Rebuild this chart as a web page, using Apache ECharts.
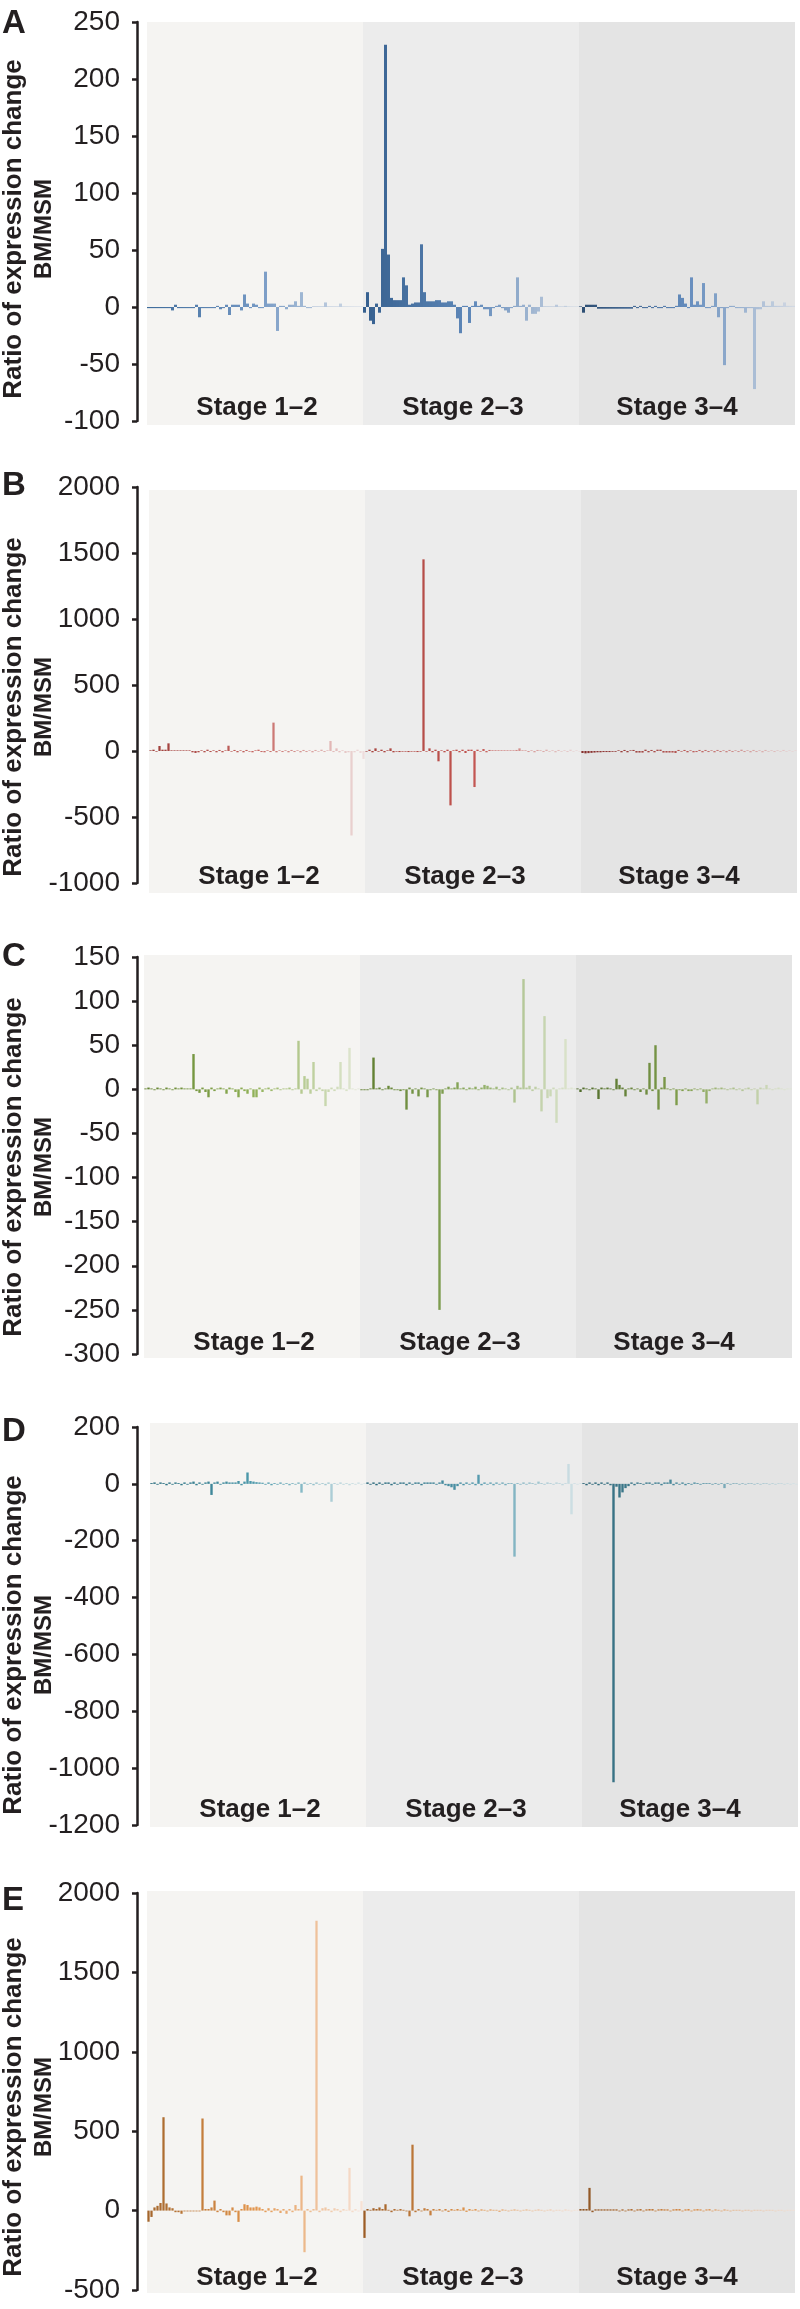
<!DOCTYPE html>
<html><head><meta charset="utf-8">
<script src="https://cdn.jsdelivr.net/npm/echarts@6/dist/echarts.min.js"></script>
<style>html,body{margin:0;padding:0;background:#fff}#c{width:800px;height:2309px}</style>
</head><body><div id="c"></div>
<script>
// ---------- text ----------
const panelLetters = ['A', 'B', 'C', 'D', 'E'];
const stageLabels = ['Stage 1–2', 'Stage 2–3', 'Stage 3–4'];
const yTitle = 'Ratio of expression change';
const ySub = 'BM/MSM';

// ---------- y-axis tick ranges ----------
const yMin = [-100, -1000, -300, -1200, -500];
const yMax = [250, 2000, 150, 200, 2000];
const yStep = [50, 500, 50, 200, 500];

// ---------- data (72 bars per stage) ----------
const A_s12 = [-1,-1,-1,-1,-1,-1,-1,-1,-3,2,-1,-1,-1,-1,-1,-1,2,-9,-1,-1,-1,-1,-1,1,-2,-1,2,-7,2,2,2,-3,11,3,-1,3,2,-1,-1,31,3,3,3,-21,1,1,-2,2,2,5,1,13,1,-1,-1,0.5,0.5,0.5,0.5,4,0.5,0.5,0.5,0.5,3,0.5,0.5,0.5,0.5,0.5,0.5,0.5];
const A_s23 = [-5,13,-12,-15,3,-5,51,230,46,8,6,6,6,26,19,2,3,4,4,55,13,5,5,5,6,6,4,4,5,5,2,-10,-23,1,1,-14,1,5,1,2,-2,-2,-8,-1,1,2,-1,-3,-5,-1,1,26,1,2,-12,2,-6,-6,-4,9,0.5,0.5,0.5,0.5,2,0.5,0.5,1,0.5,0.5,0.5,0.5];
const A_s34 = [0.5,-5,2,2,2,2,-1.5,-1.5,-1.5,-1.5,-1.5,-1.5,-1.5,-1.5,-1.5,-1.5,-1.5,-1.5,1,-1,1,-1,-1,1,-1,1,-1,-1,1,-1,-1,-1,1,11,8,3,-1,26,2,5,2,21,-1,-1,1,12,-9,-1,-51,-1,1,1,-1,-1,-1,-5,-1,-1,-72,-2,-2,5,1,1,5,1,1,1,4,1,1,1];

const B_s12 = [5,10,-5,38,10,10,58,5,5,5,5,5,5,5,-10,-15,-10,5,-10,10,-8,5,-10,8,-10,5,40,-5,8,-10,5,-10,8,-5,-10,5,10,-8,-10,5,-8,215,-10,5,-8,5,-10,8,-8,5,-10,8,-8,5,-10,8,-5,10,-8,5,76,-8,20,-10,5,-15,-10,-640,-10,10,-15,-60];
const B_s23 = [-5,10,-10,20,-5,10,-10,5,20,-10,-5,-8,-5,-5,-8,-5,-5,-8,-5,1452,-5,20,-10,10,-78,5,-10,10,-412,5,10,-10,10,-15,10,10,-273,10,-5,15,-10,8,5,5,5,5,5,5,5,5,8,20,5,5,-8,5,-10,8,5,-8,10,-5,5,-10,8,-5,5,-8,10,-5,5,-5];
const B_s34 = [-15,-18,-16,-14,-12,-10,-10,-8,-8,-8,-6,-6,5,-10,8,-10,5,8,-12,-12,-12,10,-10,8,-10,10,10,-12,-12,-12,-12,-15,8,-5,8,-10,5,-10,-8,8,-10,8,-8,5,-10,8,-8,5,-10,8,-8,5,-8,10,-8,5,-10,8,-8,5,-10,8,-5,5,-8,5,-5,8,-5,5,-5,5];

const C_s12 = [1,2,1,-1,2,1,-1,2,1,-1,2,1,2,1,1,1,40,-2,-4,2,-3,-9,2,-2,1,2,1,-5,2,1,-3,-9,2,-2,-5,1,-9,-9,2,-3,1,2,-2,1,2,-1,1,1,2,-1,1,55,-5,15,12,-5,31,-2,2,-2,-19,-3,2,-2,3,31,1,-2,47,1,-1,1];
const C_s23 = [-1,-1,-1,1,36,1,2,-1,1,4,2,-1,-1,-2,-1,-23,2,-5,1,-8,2,1,-9,-1,1,-1,-250,-5,1,3,1,2,8,1,2,-1,2,1,3,-1,2,5,4,2,1,3,-1,2,1,-1,2,-15,4,2,125,2,4,-2,3,1,-25,83,-10,-8,2,-38,1,2,57,1,2,1];
const C_s34 = [1,-3,2,1,-1,2,1,-11,2,1,2,1,-1,12,5,2,-8,1,2,-1,1,-3,1,-6,30,-2,50,-23,2,14,1,-1,1,-18,-1,-2,1,-2,-2,1,-1,1,-3,-16,-2,1,2,1,2,1,-1,1,2,-1,1,-2,1,2,-1,1,-17,2,1,5,1,-1,1,2,1,-1,1,1];

const D_s12 = [3,5,-3,5,3,-5,5,-3,5,3,-5,5,-3,5,8,-5,5,-3,5,8,-39,5,8,-3,5,8,5,5,5,10,-5,8,40,10,8,6,5,4,-3,5,-5,3,-3,5,-3,3,-5,3,-3,5,-31,5,-3,3,-5,5,-3,3,-5,5,-63,3,-3,5,-3,3,-5,3,-3,5,-3,3];
const D_s23 = [5,-3,5,-5,5,-3,5,5,-5,5,-3,5,5,-5,5,-3,5,5,-5,5,5,5,5,-3,5,12,-5,-8,-12,-21,-8,5,-5,5,-3,5,-5,32,-5,5,-3,5,-5,5,-3,5,-5,3,3,-256,3,-3,5,-3,5,3,-3,8,3,-3,5,3,-3,5,3,-5,3,70,-107,3,-3,3];
const D_s34 = [3,-5,5,-3,5,-5,5,-3,5,-5,-1050,-10,-48,-30,-15,-8,5,-5,5,3,-3,5,5,-3,5,5,-5,5,5,15,-5,5,-3,5,-5,3,-3,5,3,-3,3,3,3,-3,3,-3,3,-15,3,-3,3,3,-3,3,-3,3,3,-3,3,-3,3,3,-3,3,-3,3,3,-3,3,-3,3,-3];

const E_s12 = [-70,-40,20,30,48,588,45,20,15,-10,-10,-20,-5,-5,-5,-5,-5,-5,580,10,10,20,63,-10,10,-10,-30,-30,20,-10,-71,10,40,35,20,20,25,20,10,-10,15,-10,15,10,-15,10,-20,10,-10,35,10,220,-262,10,-10,10,1826,-10,15,20,10,-10,15,10,-10,10,5,269,-10,10,-5,60];
const E_s23 = [-172,10,5,15,10,20,10,40,5,-10,10,5,10,5,-5,-36,415,-10,10,-5,15,10,-30,10,5,10,-5,10,-8,10,5,10,5,20,-8,10,5,10,-5,8,5,-5,8,5,5,-8,8,5,-5,5,8,5,-5,5,8,5,-5,5,8,5,-5,5,8,-5,5,5,-5,8,5,-5,5,5];
const E_s34 = [10,10,10,143,-10,8,8,8,8,8,8,8,8,-5,8,-5,8,10,-5,8,10,-5,8,10,10,-5,8,10,8,8,-5,8,10,10,-5,8,10,-5,8,10,8,-5,8,10,-5,8,5,-5,8,5,-5,5,5,5,-5,5,5,-5,5,5,5,-5,5,5,5,-5,5,5,-5,5,5,5];

const panelData = [
  [A_s12, A_s23, A_s34],
  [B_s12, B_s23, B_s34],
  [C_s12, C_s23, C_s34],
  [D_s12, D_s23, D_s34],
  [E_s12, E_s23, E_s34]
];

// ---------- layout (pixels) ----------
const AXIS_X = 137;
const bandLeft = [147, 149, 144, 150, 147];
const BAND_W = 216;
const tickTop = [22, 487, 957, 1427, 1893];
const tickBottom = [421, 883, 1354, 1825, 2290];
const bandTop = [22, 490, 955, 1423, 1891];
const bandBottom = [425, 893, 1358, 1827, 2293];
const letterY = [24, 486, 957, 1432, 1901];
const titleY = [229, 707, 1167, 1645, 2107];
const stageLabelY = [408, 877, 1343, 1810, 2278];
const stageLabelDX = [110, 316, 530];
const barGap = ['0%', '25%', '20%', '20%', '25%'];

// ---------- styles ----------
const INK = '#231f20';
const bandColors = ['#f5f4f2', '#ececec', '#e4e4e4'];
const palettes = [
  [['#3f6c9c','#7397c3','#d5dde7'], ['#36608f','#5f88b9','#d0d8e3'], ['#2c4d72','#648cbd','#d2d9e3']],
  [['#9e3d39','#c66662','#eedcdc'], ['#a8443f','#c25450','#ead8d8'], ['#862f2c','#bb5c59','#e8d4d4']],
  [['#62822f','#8fb056','#e2e8d6'], ['#5e7d2e','#88a85b','#dfe6d2'], ['#4f6b2a','#82a04e','#dfe6d4']],
  [['#2a6e80','#4f9bae','#d6e4e8'], ['#2a687b','#5098ac','#d7e4e8'], ['#2f6779','#4e8fa2','#d6e3e7']],
  [['#a5662c','#e3954c','#f7e1d4'], ['#9d5d26','#e0944c','#f6e0d3'], ['#8d5424','#d98c46','#f5dfd2']]
];

function hex2rgb(h) { return [1,3,5].map(i => parseInt(h.slice(i, i + 2), 16)); }
function lerpColor(stops, t) {
  const seg = t < 0.5 ? 0 : 1;
  const lt = seg === 0 ? t / 0.5 : (t - 0.5) / 0.5;
  const a = hex2rgb(stops[seg]), b = hex2rgb(stops[seg + 1]);
  const c = a.map((v, i) => Math.round(v + (b[i] - v) * lt));
  return 'rgb(' + c.join(',') + ')';
}

const grid = [], xAxis = [], yAxis = [], series = [], graphic = [];

// background band grids
for (let p = 0; p < 5; p++) {
  for (let s = 0; s < 3; s++) {
    const gi = grid.length;
    grid.push({ left: bandLeft[p] + BAND_W * s, width: BAND_W, top: bandTop[p],
      height: bandBottom[p] - bandTop[p], show: true, backgroundColor: bandColors[s], borderWidth: 0 });
    xAxis.push({ gridIndex: gi, type: 'value', show: false, min: 0, max: 1 });
    yAxis.push({ gridIndex: gi, type: 'value', show: false, min: 0, max: 1 });
  }
}

// data grids
for (let p = 0; p < 5; p++) {
  for (let s = 0; s < 3; s++) {
    const gi = grid.length;
    const vals = panelData[p][s];
    grid.push({ left: bandLeft[p] + BAND_W * s, width: BAND_W, top: tickTop[p],
      height: tickBottom[p] - tickTop[p], show: false });
    xAxis.push({ gridIndex: gi, type: 'category', data: vals.map((v, i) => i), show: false });
    const ya = { gridIndex: gi, type: 'value', min: yMin[p], max: yMax[p], interval: yStep[p],
      splitLine: { show: false } };
    if (s === 0) {
      Object.assign(ya, {
        show: true, position: 'left', offset: bandLeft[p] - AXIS_X,
        axisLine: { show: true, lineStyle: { color: INK, width: 2.5 } },
        axisTick: { show: true, length: 5, inside: false, lineStyle: { color: INK, width: 2.5 } },
        axisLabel: { show: true, color: INK, fontSize: 28, margin: 17, fontFamily: 'Liberation Sans',
          formatter: v => String(v) }
      });
    } else {
      ya.show = false;
    }
    yAxis.push(ya);
    const n = vals.length;
    series.push({
      type: 'bar', xAxisIndex: gi, yAxisIndex: gi, barCategoryGap: barGap[p], silent: true,
      data: vals.map((v, i) => ({ value: v, itemStyle: { color: lerpColor(palettes[p][s], i / (n - 1)) } }))
    });
  }
}

// texts
const FONT = '"Liberation Sans", Arial, sans-serif';
for (let p = 0; p < 5; p++) {
  graphic.push({ type: 'text', left: 2, top: letterY[p] - 17,
    style: { text: panelLetters[p], font: 'bold 33px ' + FONT, fill: INK } });
  graphic.push({ type: 'text', x: 14, y: titleY[p], rotation: Math.PI / 2,
    style: { text: yTitle, font: 'bold 26px ' + FONT, fill: INK, textAlign: 'center', textVerticalAlign: 'middle' } });
  graphic.push({ type: 'text', x: 44, y: titleY[p], rotation: Math.PI / 2,
    style: { text: ySub, font: 'bold 24px ' + FONT, fill: INK, textAlign: 'center', textVerticalAlign: 'middle' } });
  for (let s = 0; s < 3; s++) {
    graphic.push({ type: 'text', x: bandLeft[p] + stageLabelDX[s], y: stageLabelY[p], z: 10,
      style: { text: stageLabels[s], font: 'bold 26px ' + FONT, fill: INK, textAlign: 'center', textVerticalAlign: 'middle' } });
  }
}

const chart = echarts.init(document.getElementById('c'), null, { renderer: 'canvas' });
chart.setOption({ animation: false, backgroundColor: '#ffffff', grid, xAxis, yAxis, series, graphic });
</script>
</body></html>
